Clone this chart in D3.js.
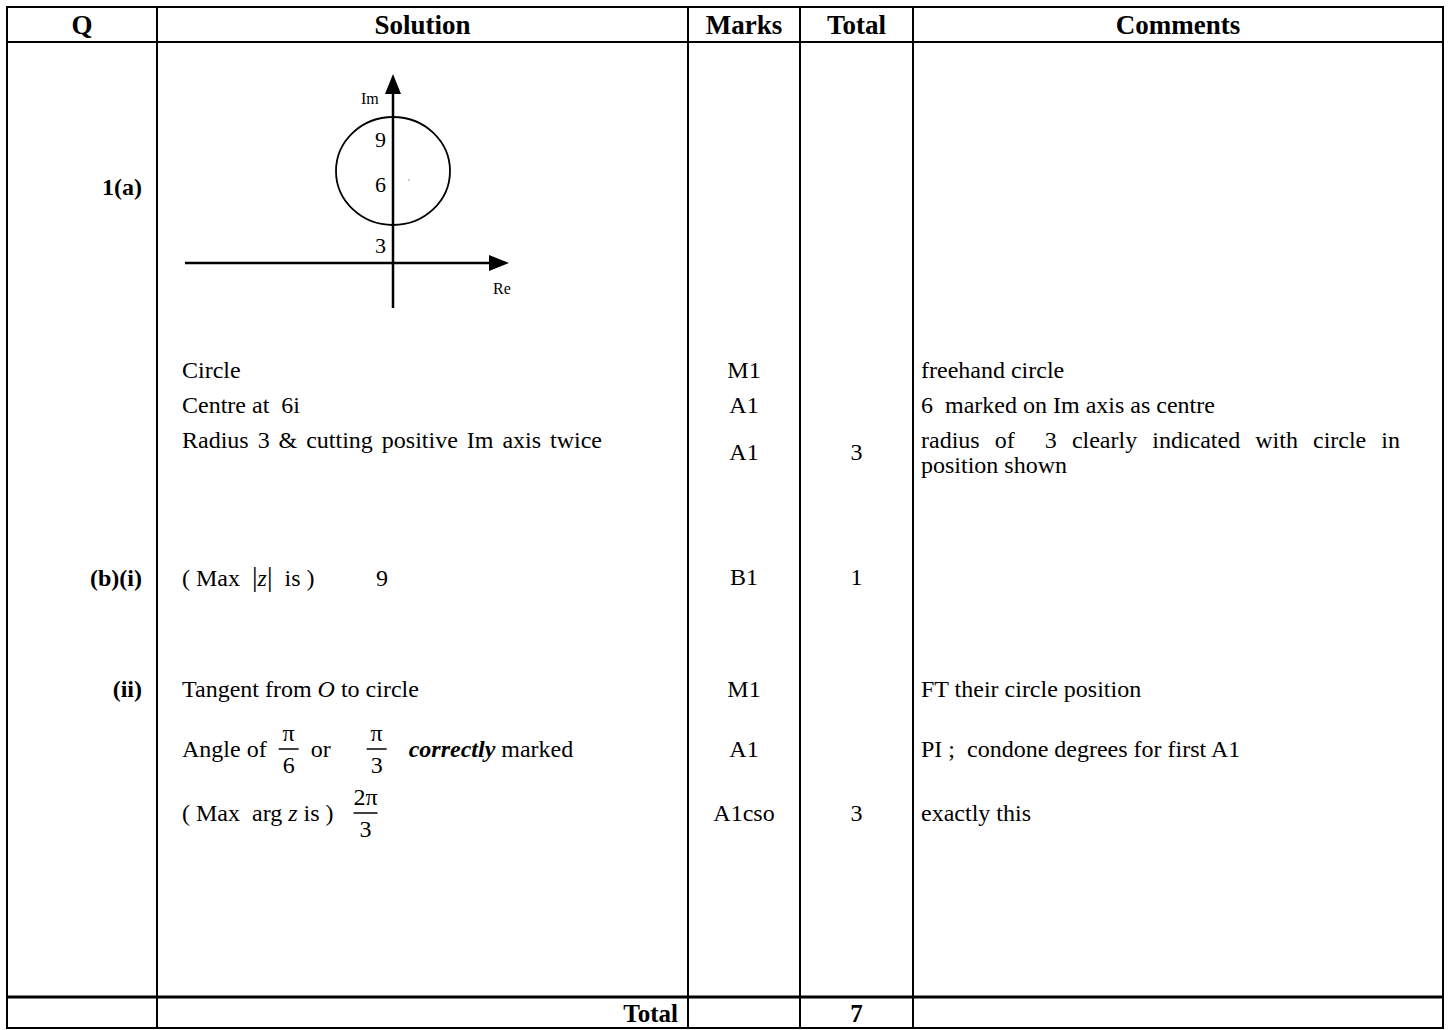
<html>
<head>
<meta http-equiv="Content-Type" content="text/html; charset=utf-8" />
<script src="https://cdn.jsdelivr.net/npm/d3@7/dist/d3.min.js"></script>
<style type="text/css">
	body { margin: 0; background: #FFFFFF; }
	text { font-family: "Liberation Serif", "Times New Roman", serif; fill: #000; white-space: pre; }
</style>
</head>
<body>
<svg id="chart" width="1451" height="1030"></svg>
<script type="text/javascript">
	// table content
	var headers   = ["Q", "Solution", "Marks", "Total", "Comments"];
	var questions = ["1(a)", "(b)(i)", "(ii)"];
	var marks     = ["M1", "A1", "A1", "B1", "M1", "A1", "A1cso"];
	var totals    = ["3", "1", "3"];
	var grandTotal = "7";
	var comments  = [
		["freehand circle"],
		["6  marked on Im axis as centre"],
		["radius of  3 clearly indicated with circle in", "position shown"],
		[],
		["FT their circle position"],
		["PI ;  condone degrees for first A1"],
		["exactly this"]
	];
	var plainSolutions = ["Circle", "Centre at  6i", "Radius 3 & cutting positive Im axis twice"];

	// sketch of the locus: circle centre 6i, radius 3, labels on Im axis
	var imTicks = [3, 6, 9];
	var circleCentre = 6;
	var circleRadius = 3;

	// layout
	var v_Cols  = [7, 157, 688, 800, 913, 1443];
	var v_Top   = 7, v_HeadBottom = 42, v_TotalTop = 997, v_Bottom = 1028;
	var v_RowY  = [370, 405, 440, 578, 689, 749, 813];
	var v_MarkY = [370, 405, 452, 577, 689, 749, 813];
	var v_QY    = [187, 578, 689];
	var v_TotY  = [452, 577, 813];
	var v_FS    = 24;
	var v_SolX  = 182;
	var v_ComX  = 921;

	var v_SVG = d3.select("#chart");

	function colMid(i) { return (v_Cols[i] + v_Cols[i + 1]) / 2; }

	/* widen the word gaps of a line so it ends at i_Right */
	function justify(i_Text, i_Right)
	{
		var v_Node   = i_Text.node();
		var v_Left   = +i_Text.attr("x");
		var v_Gaps   = (i_Text.text().match(/ /g) || []).length;
		var v_Extra  = i_Right - v_Left - v_Node.getComputedTextLength();
		if ( v_Gaps > 0 && v_Extra > 0 )
		{
			i_Text.style("word-spacing", (v_Extra / v_Gaps) + "px");
		}
	}

	// grid
	var g = v_SVG.append("g").attr("stroke", "#000").attr("fill", "none");
	g.selectAll("line.v").data(v_Cols).enter().append("line")
		.attr("x1", function(d) { return d; }).attr("x2", function(d) { return d; })
		.attr("y1", v_Top - 1).attr("y2", v_Bottom + 1).attr("stroke-width", 2);
	g.selectAll("line.h").data([[v_Top, 2], [v_HeadBottom, 2], [v_TotalTop, 3], [v_Bottom, 2]]).enter().append("line")
		.attr("x1", v_Cols[0] - 1).attr("x2", v_Cols[5] + 1)
		.attr("y1", function(d) { return d[0]; }).attr("y2", function(d) { return d[0]; })
		.attr("stroke-width", function(d) { return d[1]; });

	// header
	v_SVG.selectAll("text.head").data(headers).enter().append("text")
		.attr("x", function(d, i) { return colMid(i); })
		.attr("y", 34)
		.attr("text-anchor", "middle")
		.attr("font-weight", "bold")
		.attr("font-size", 27)
		.text(function(d) { return d; });

	// question labels
	v_SVG.selectAll("text.q").data(questions).enter().append("text")
		.attr("x", 142)
		.attr("y", function(d, i) { return v_QY[i]; })
		.attr("dy", "0.35em")
		.attr("text-anchor", "end")
		.attr("font-weight", "bold")
		.attr("font-size", v_FS)
		.text(function(d) { return d; });

	// marks
	v_SVG.selectAll("text.mark").data(marks).enter().append("text")
		.attr("x", colMid(2))
		.attr("y", function(d, i) { return v_MarkY[i]; })
		.attr("dy", "0.35em")
		.attr("text-anchor", "middle")
		.attr("font-size", v_FS)
		.text(function(d) { return d; });

	// totals
	v_SVG.selectAll("text.tot").data(totals).enter().append("text")
		.attr("x", colMid(3))
		.attr("y", function(d, i) { return v_TotY[i]; })
		.attr("dy", "0.35em")
		.attr("text-anchor", "middle")
		.attr("font-size", v_FS)
		.text(function(d) { return d; });

	// comments (first line of a wrapped comment reaches the cell edge)
	comments.forEach(function(lines, i) {
		lines.forEach(function(line, j) {
			var c = v_SVG.append("text")
				.attr("x", v_ComX)
				.attr("y", v_RowY[i] + j * 25)
				.attr("dy", "0.35em")
				.attr("font-size", v_FS)
				.text(line);
			if ( j < lines.length - 1 ) justify(c, 1400);
		});
	});

	// plain solution lines
	v_SVG.selectAll("text.sol").data(plainSolutions).enter().append("text")
		.attr("x", v_SolX)
		.attr("y", function(d, i) { return v_RowY[i]; })
		.attr("dy", "0.35em")
		.attr("font-size", v_FS)
		.text(function(d) { return d; })
		.each(function(d, i) {
			if ( i == 2 ) justify(d3.select(this), 602);
		});

	// (b)(i) :  ( Max |z| is )   9
	var t = v_SVG.append("text").attr("x", v_SolX).attr("y", v_RowY[3]).attr("dy", "0.35em").attr("font-size", v_FS);
	t.append("tspan").text("( Max  ");
	t.append("tspan").attr("font-size", 28).text("|");
	t.append("tspan").attr("font-style", "italic").text("z");
	t.append("tspan").attr("font-size", 28).text("|");
	t.append("tspan").text("  is )");
	t.append("tspan").attr("x", v_SolX + 194).text("9");

	// (ii) tangent
	t = v_SVG.append("text").attr("x", v_SolX).attr("y", v_RowY[4]).attr("dy", "0.35em").attr("font-size", v_FS);
	t.append("tspan").text("Tangent from ");
	t.append("tspan").attr("font-style", "italic").text("O");
	t.append("tspan").text(" to circle");

	function fraction(cx, cy, num, den, w) {
		v_SVG.append("text").attr("x", cx).attr("y", cy - 8).attr("text-anchor", "middle")
			.attr("font-size", v_FS).text(num);
		v_SVG.append("line").attr("x1", cx - w / 2).attr("x2", cx + w / 2)
			.attr("y1", cy).attr("y2", cy).attr("stroke", "#000").attr("stroke-width", 1.5);
		v_SVG.append("text").attr("x", cx).attr("y", cy + 24).attr("text-anchor", "middle")
			.attr("font-size", v_FS).text(den);
	}

	// angle line
	var yA = v_RowY[5];
	var a1 = v_SVG.append("text").attr("x", v_SolX).attr("y", yA).attr("dy", "0.35em").attr("font-size", v_FS).text("Angle of");
	var xA = v_SolX + a1.node().getComputedTextLength();
	fraction(xA + 22, yA, "π", "6", 20);
	v_SVG.append("text").attr("x", xA + 44).attr("y", yA).attr("dy", "0.35em").attr("font-size", v_FS).text("or");
	fraction(xA + 110, yA, "π", "3", 20);
	t = v_SVG.append("text").attr("x", xA + 142).attr("y", yA).attr("dy", "0.35em").attr("font-size", v_FS);
	t.append("tspan").attr("font-weight", "bold").attr("font-style", "italic").text("correctly");
	t.append("tspan").text(" marked");

	// max arg line
	var yM = v_RowY[6];
	t = v_SVG.append("text").attr("x", v_SolX).attr("y", yM).attr("dy", "0.35em").attr("font-size", v_FS);
	t.append("tspan").text("( Max  arg ");
	t.append("tspan").attr("font-style", "italic").text("z");
	t.append("tspan").text(" is )");
	var xM = v_SolX + t.node().getComputedTextLength();
	fraction(xM + 32, yM, "2π", "3", 24);

	// total row
	v_SVG.append("text").attr("x", v_Cols[2] - 10).attr("y", 1013).attr("dy", "0.35em")
		.attr("text-anchor", "end").attr("font-weight", "bold").attr("font-size", 25).text("Total");
	v_SVG.append("text").attr("x", colMid(3)).attr("y", 1013).attr("dy", "0.35em")
		.attr("text-anchor", "middle").attr("font-weight", "bold").attr("font-size", 25).text(grandTotal);

	// Argand sketch
	var axX = 393, axY = 263;
	var yIm = d3.scaleLinear().domain([3, 9]).range([225, 117]);
	var sk = v_SVG.append("g");
	sk.append("line").attr("x1", axX).attr("x2", axX).attr("y1", 308).attr("y2", 90)
		.attr("stroke", "#000").attr("stroke-width", 2.5);
	sk.append("path").attr("d", "M" + axX + ",74 L" + (axX - 8) + ",94 L" + (axX + 8) + ",94 Z").attr("fill", "#000");
	sk.append("line").attr("x1", 185).attr("x2", 492).attr("y1", axY).attr("y2", axY)
		.attr("stroke", "#000").attr("stroke-width", 2.5);
	sk.append("path").attr("d", "M509," + axY + " L489," + (axY - 8) + " L489," + (axY + 8) + " Z").attr("fill", "#000");

	sk.append("ellipse")
		.attr("cx", axX)
		.attr("cy", yIm(circleCentre))
		.attr("rx", 57)
		.attr("ry", yIm(circleCentre - circleRadius) - yIm(circleCentre))
		.attr("fill", "none").attr("stroke", "#000").attr("stroke-width", 1.8);
	sk.append("circle").attr("cx", 409).attr("cy", 180).attr("r", 0.7).attr("fill", "#4a7fd0");

	var tickOffset = {3: 28, 6: 21, 9: 30};
	sk.selectAll("text.tick").data(imTicks).enter().append("text")
		.attr("x", 386)
		.attr("y", function(d) { return yIm(d) + tickOffset[d]; })
		.attr("text-anchor", "end")
		.attr("font-size", 22)
		.text(function(d) { return d; });
	sk.append("text").attr("x", 361).attr("y", 104).attr("font-size", 16).text("Im");
	sk.append("text").attr("x", 493).attr("y", 294).attr("font-size", 16).text("Re");
</script>
</body>
</html>
